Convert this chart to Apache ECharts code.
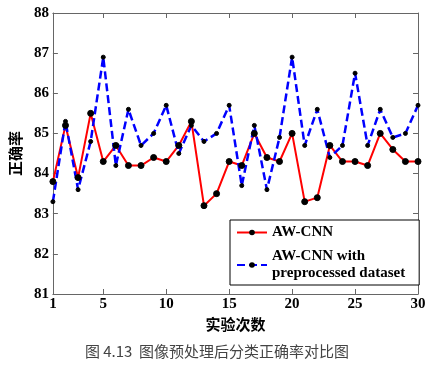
<!DOCTYPE html>
<html><head><meta charset="utf-8">
<script src="https://cdn.jsdelivr.net/npm/echarts@6/dist/echarts.min.js"></script>
<style>html,body{margin:0;padding:0;background:#fff}#c{width:434px;height:374px}</style>
</head><body><div id="c"></div>
<script>
const runs = [1,2,3,4,5,6,7,8,9,10,11,12,13,14,15,16,17,18,19,20,21,22,23,24,25,26,27,28,29,30];
const awcnn = [83.8,85.2,83.9,85.5,84.3,84.7,84.2,84.2,84.4,84.3,84.7,85.3,83.2,83.5,84.3,84.2,85.0,84.4,84.3,85.0,83.3,83.4,84.7,84.3,84.3,84.2,85.0,84.6,84.3,84.3];
const awcnnPre = [83.3,85.3,83.6,84.8,86.9,84.2,85.6,84.7,85.0,85.7,84.5,85.2,84.8,85.0,85.7,83.7,85.2,83.6,84.9,86.9,84.7,85.6,84.4,84.7,86.5,84.7,85.6,84.9,85.0,85.7];
const xTicks = [1,5,10,15,20,25,30];
const xTopTicks = [5,10,15,20,25];
const seriesNames = ['AW-CNN', 'AW-CNN with\npreprocessed dataset'];
const xTitle = '实验次数';
const yTitle = '正确率';
const caption = '图 4.13  图像预处理后分类正确率对比图';

const chart = echarts.init(document.getElementById('c'));
const serif = 'Liberation Serif';
const axisColor = '#666';
const lbl = {fontFamily: serif, fontWeight: 'bold', fontSize: 15, color: '#000'};
chart.setOption({
  animation: false,
  grid: {left: 43, right: 16, top: 13, bottom: 80},
  legend: {
    orient: 'vertical', left: 230, top: 220,
    data: seriesNames,
    itemWidth: 30, itemHeight: 7, itemGap: 7,
    padding: [4, 14, 3, 6],
    borderColor: '#000', borderWidth: 1, backgroundColor: '#fff',
    textStyle: {fontFamily: serif, fontWeight: 'bold', fontSize: 15, color: '#000', lineHeight: 17}
  },
  xAxis: [{
    type: 'value', min: 1, max: 30, position: 'bottom',
    axisLine: {show: true, lineStyle: {color: axisColor}},
    axisTick: {show: true, inside: true, length: 5, customValues: xTicks, lineStyle: {color: axisColor}},
    axisLabel: Object.assign({margin: 3, customValues: xTicks}, lbl),
    splitLine: {show: false},
    name: xTitle, nameLocation: 'middle', nameGap: 21,
    nameTextStyle: {fontFamily: 'Noto Sans CJK SC', fontWeight: 'bold', fontSize: 15, color: '#000'}
  }, {
    type: 'value', min: 1, max: 30, position: 'top',
    axisLine: {show: true, lineStyle: {color: axisColor}},
    axisTick: {show: true, inside: true, length: 5, customValues: xTopTicks, lineStyle: {color: axisColor}},
    axisLabel: {show: false}, splitLine: {show: false}
  }],
  yAxis: [{
    type: 'value', min: 81, max: 88, interval: 1, position: 'left',
    axisLine: {show: true, lineStyle: {color: axisColor}},
    axisTick: {show: true, inside: true, length: 5, lineStyle: {color: axisColor}},
    axisLabel: Object.assign({margin: 4}, lbl),
    splitLine: {show: false},
    name: yTitle, nameLocation: 'middle', nameGap: 27, nameRotate: 90,
    nameTextStyle: {fontFamily: 'Noto Sans CJK SC', fontWeight: 'bold', fontSize: 15, color: '#000', padding: [0, 0, 0, 0]}
  }, {
    type: 'value', min: 81, max: 88, interval: 1, position: 'right',
    axisLine: {show: true, lineStyle: {color: axisColor}},
    axisTick: {show: true, inside: true, length: 5, lineStyle: {color: axisColor}},
    axisLabel: {show: false}, splitLine: {show: false}
  }],
  series: [{
    name: seriesNames[0], type: 'line', xAxisIndex: 0, yAxisIndex: 0,
    data: runs.map((r, i) => [r, awcnn[i]]),
    lineStyle: {color: '#ff0000', width: 2},
    symbol: 'circle', symbolSize: 6,
    itemStyle: {color: '#000', borderColor: '#000'},
    color: '#ff0000'
  }, {
    name: seriesNames[1], type: 'line', xAxisIndex: 0, yAxisIndex: 0,
    data: runs.map((r, i) => [r, awcnnPre[i]]),
    lineStyle: {color: '#0000ff', width: 2.5, type: [8, 4]},
    symbol: 'circle', symbolSize: 4,
    itemStyle: {color: '#000', borderColor: '#000'},
    color: '#0000ff'
  }],
  graphic: [{
    type: 'text', left: 'center', top: 344,
    style: {text: caption, fontFamily: 'Noto Sans CJK SC', fontSize: 15, fill: '#444'}
  }]
});
</script></body></html>
